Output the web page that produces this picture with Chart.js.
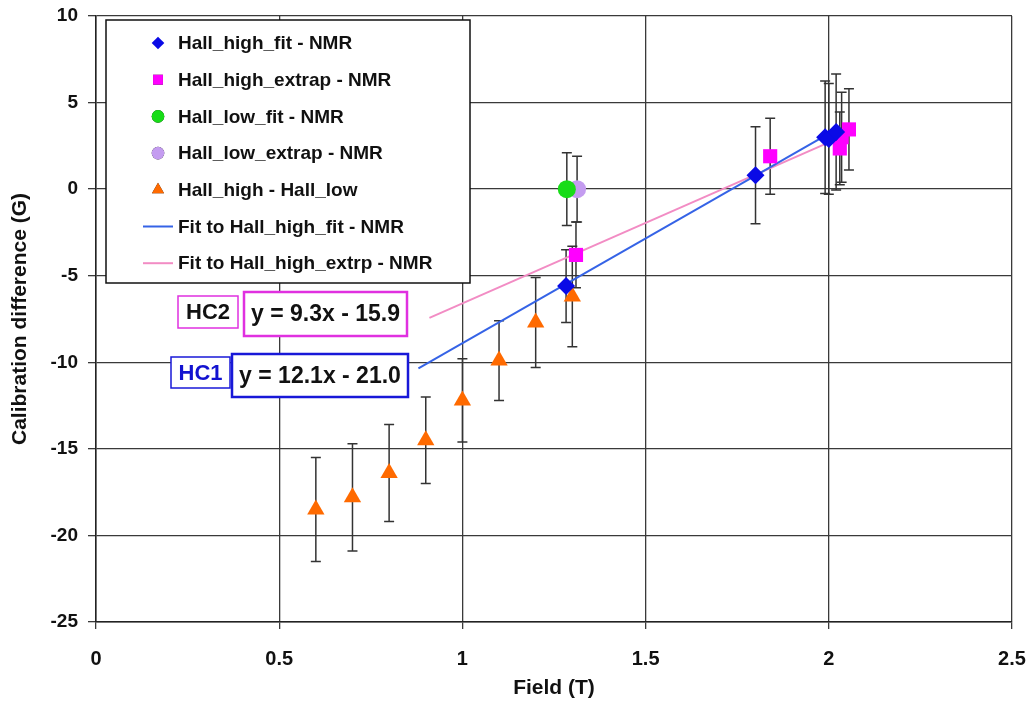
<!DOCTYPE html>
<html>
<head>
<meta charset="utf-8">
<title>Calibration difference vs field</title>
<script src="https://cdn.jsdelivr.net/npm/chart.js@4"></script>
<style>
  html, body { margin: 0; padding: 0; background: #fff; }
  canvas { display: block; }
</style>
</head>
<body>
<canvas id="calChart" width="1033" height="713"></canvas>
<script>
// Hall_high_fit - NMR
const highFitField = [1.283, 1.80, 1.99, 2.00, 2.02];
const highFitDiff = [-5.6, 0.8, 3.0, 2.9, 3.3];
const highFitErr = [2.1, 2.8, 3.25, 3.2, 3.35];

// Hall_high_extrap - NMR
const highExtField = [1.31, 1.84, 2.03, 2.035, 2.055];
const highExtDiff = [-3.8, 1.9, 2.35, 3.0, 3.45];
const highExtErr = [1.9, 2.2, 2.1, 2.6, 2.35];

// Hall_low_fit / Hall_low_extrap - NMR
const lowFitField = [1.285];
const lowFitDiff = [0.0];
const lowFitErr = [2.1];
const lowExtField = [1.313];
const lowExtDiff = [0.0];
const lowExtErr = [1.9];

// Hall_high - Hall_low
const hhLowField = [0.6, 0.7, 0.8, 0.9, 1.0, 1.1, 1.2, 1.3];
const hhLowDiff = [-18.5, -17.8, -16.4, -14.5, -12.2, -9.9, -7.7, -6.2];
const hhLowErr = [3.0, 3.1, 2.8, 2.5, 2.4, 2.3, 2.6, 2.9];

// linear fits: [Hall_high_fit, Hall_high_extrp]
const fitSlope = [12.1, 9.3];
const fitIntercept = [-21.0, -15.9];
const fitFrom = [0.88, 0.91];
const fitTo = [2.03, 2.05];
const fitNames = ['HC1', 'HC2'];

const BLUE = '#0a0ae6';
const MAGENTA = '#ff00ff';
const GREEN = '#18dc18';
const LILAC = '#c49cf0';
const ORANGE = '#ff6a00';
const FIT_BLUE = '#3563e6';
const FIT_PINK = '#f28cc4';
const FONT = '"Liberation Sans", Arial, sans-serif';

const pts = (xs, ys) => xs.map((x, i) => ({ x: x, y: ys[i] }));
const fitLine = i => [fitFrom[i], fitTo[i]].map(x => ({ x: x, y: fitSlope[i] * x + fitIntercept[i] }));
const fmt = v => (v < 0 ? '- ' : '+ ') + Math.abs(v).toFixed(1);

const markerSet = (label, xs, ys, errs, color, style, radius) => ({
  label: label,
  data: pts(xs, ys),
  errors: errs,
  pointStyle: style,
  pointRadius: radius,
  pointBackgroundColor: color,
  pointBorderColor: color,
  pointBorderWidth: 0,
  showLine: false,
  order: 1
});

const fitSet = (label, i, color) => ({
  label: label,
  data: fitLine(i),
  showLine: true,
  borderColor: color,
  borderWidth: 2,
  pointRadius: 0,
  order: 2
});

// vertical error bars with caps, under the markers
const errorBars = {
  id: 'errorBars',
  beforeDatasetsDraw(chart) {
    const { ctx, scales: { x, y } } = chart;
    ctx.save();
    ctx.strokeStyle = '#333';
    ctx.lineWidth = 1.5;
    chart.data.datasets.forEach(ds => {
      if (!ds.errors) return;
      ds.data.forEach((p, i) => {
        const px = x.getPixelForValue(p.x);
        const top = y.getPixelForValue(p.y + ds.errors[i]);
        const bot = y.getPixelForValue(p.y - ds.errors[i]);
        ctx.beginPath();
        ctx.moveTo(px, top); ctx.lineTo(px, bot);
        ctx.moveTo(px - 5, top); ctx.lineTo(px + 5, top);
        ctx.moveTo(px - 5, bot); ctx.lineTo(px + 5, bot);
        ctx.stroke();
      });
    });
    ctx.restore();
  }
};

// boxed legend in the upper left of the plot
const boxLegend = {
  id: 'boxLegend',
  afterDatasetsDraw(chart) {
    const { ctx, chartArea: a } = chart;
    const left = a.left + 10, top = a.top + 4, w = 364, h = 263;
    ctx.save();
    ctx.fillStyle = '#fff';
    ctx.fillRect(left, top, w, h);
    ctx.strokeStyle = '#111';
    ctx.lineWidth = 1.5;
    ctx.strokeRect(left, top, w, h);
    ctx.font = 'bold 19px ' + FONT;
    ctx.textBaseline = 'middle';
    chart.data.datasets.forEach((ds, i) => {
      const cy = top + 23 + i * 36.7;
      const mx = left + 52;
      if (ds.showLine) {
        ctx.strokeStyle = ds.borderColor;
        ctx.lineWidth = 2;
        ctx.beginPath();
        ctx.moveTo(left + 37, cy); ctx.lineTo(left + 67, cy);
        ctx.stroke();
      } else {
        Chart.helpers.drawPoint(ctx, {
          pointStyle: ds.pointStyle,
          radius: ds.pointRadius * 0.7,
          borderWidth: 0
        }, mx, cy);
        ctx.fillStyle = ds.pointBackgroundColor;
        ctx.fill();
      }
      ctx.fillStyle = '#111';
      ctx.fillText(ds.label, left + 72, cy + 1);
    });
    ctx.restore();
  }
};

// boxed fit equations with their HC tags
const fitLabels = {
  id: 'fitLabels',
  afterDatasetsDraw(chart) {
    const { ctx } = chart;
    const boxes = [
      { tag: [171, 357, 59, 31], eq: [232, 354, 176, 43], color: '#1818d8', tagText: '#1212d0', tagLw: 1.5, eqLw: 2.5 },
      { tag: [178, 296, 60, 32], eq: [244, 292, 163, 44], color: '#e030e0', tagText: '#111', tagLw: 1.5, eqLw: 2.5 }
    ];
    ctx.save();
    ctx.textAlign = 'center';
    ctx.textBaseline = 'middle';
    boxes.forEach((b, i) => {
      const [tx, ty, tw, th] = b.tag;
      const [ex, ey, ew, eh] = b.eq;
      ctx.fillStyle = '#fff';
      ctx.fillRect(tx, ty, tw, th);
      ctx.fillRect(ex, ey, ew, eh);
      ctx.strokeStyle = b.color;
      ctx.lineWidth = b.tagLw;
      ctx.strokeRect(tx, ty, tw, th);
      ctx.lineWidth = b.eqLw;
      ctx.strokeRect(ex, ey, ew, eh);
      ctx.fillStyle = b.tagText;
      ctx.font = 'bold 22px ' + FONT;
      ctx.fillText(fitNames[i], tx + tw / 2, ty + th / 2 + 1);
      ctx.fillStyle = '#111';
      ctx.font = 'bold 23px ' + FONT;
      ctx.fillText('y = ' + fitSlope[i].toFixed(1) + 'x ' + fmt(fitIntercept[i]), ex + ew / 2, ey + eh / 2 + 1);
    });
    ctx.restore();
  }
};

new Chart(document.getElementById('calChart'), {
  type: 'scatter',
  data: {
    datasets: [
      markerSet('Hall_high_fit - NMR', highFitField, highFitDiff, highFitErr, BLUE, 'rectRot', 9),
      markerSet('Hall_high_extrap - NMR', highExtField, highExtDiff, highExtErr, MAGENTA, 'rect', 10),
      markerSet('Hall_low_fit - NMR', lowFitField, lowFitDiff, lowFitErr, GREEN, 'circle', 9),
      markerSet('Hall_low_extrap - NMR', lowExtField, lowExtDiff, lowExtErr, LILAC, 'circle', 9),
      markerSet('Hall_high - Hall_low', hhLowField, hhLowDiff, hhLowErr, ORANGE, 'triangle', 10),
      fitSet('Fit to Hall_high_fit - NMR', 0, FIT_BLUE),
      fitSet('Fit to Hall_high_extrp - NMR', 1, FIT_PINK)
    ]
  },
  options: {
    responsive: false,
    animation: false,
    layout: { padding: { top: 16, right: 21, left: 0, bottom: 0 } },
    plugins: {
      legend: { display: false },
      tooltip: { enabled: false }
    },
    scales: {
      x: {
        type: 'linear',
        min: 0, max: 2.5,
        // fixed axis band; end labels may overhang into the outer padding
        afterFit: s => { s.height = 91; s.paddingLeft = 0; s.paddingRight = 0; },
        ticks: {
          stepSize: 0.5,
          padding: 18,
          maxRotation: 0,
          color: '#111',
          callback: v => String(v),
          font: { family: FONT, size: 20, weight: 'bold' }
        },
        grid: { color: '#3a3a3a', lineWidth: 1.3, tickLength: 7 },
        border: { color: '#222', width: 1.5 },
        title: {
          display: true,
          text: 'Field (T)',
          color: '#111',
          font: { family: FONT, size: 21, weight: 'bold' },
          padding: { top: 0, bottom: 12 }
        }
      },
      y: {
        type: 'linear',
        min: -25, max: 10,
        afterFit: s => { s.width = 96; s.paddingTop = 0; s.paddingBottom = 0; },
        ticks: {
          stepSize: 5,
          padding: 10,
          color: '#111',
          font: { family: FONT, size: 19, weight: 'bold' }
        },
        grid: { color: '#3a3a3a', lineWidth: 1.3, tickLength: 8 },
        border: { color: '#222', width: 1.5 },
        title: {
          display: true,
          text: 'Calibration difference (G)',
          color: '#111',
          font: { family: FONT, size: 21, weight: 'bold' },
          padding: { top: 8, bottom: 0 }
        }
      }
    }
  },
  plugins: [errorBars, boxLegend, fitLabels]
});
</script>
</body>
</html>
